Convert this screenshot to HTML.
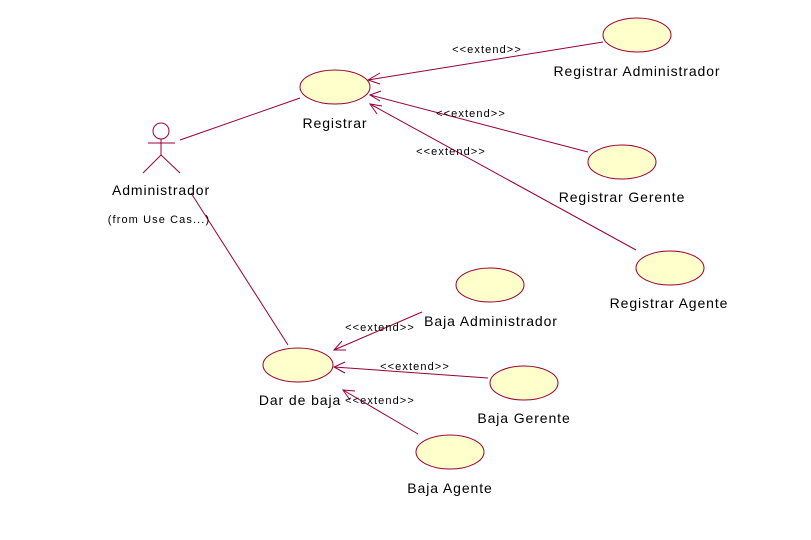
<!DOCTYPE html>
<html><head><style>body{margin:0;background:#fff}svg{display:block}text{font-family:"Liberation Sans",sans-serif;fill:#000}</style></head>
<body>
<svg width="811" height="540" viewBox="0 0 811 540" xmlns="http://www.w3.org/2000/svg">
<g stroke="#990033" stroke-width="1" fill="none">
<line x1="180" y1="140" x2="300" y2="98"/>
<line x1="191" y1="193" x2="288" y2="345"/>
<line x1="603" y1="42" x2="368" y2="80"/>
<polyline points="380,73 368,80 380,84"/>
<line x1="588" y1="152" x2="370" y2="95"/>
<polyline points="381,91 370,95 380,101"/>
<line x1="636" y1="250" x2="370" y2="104"/>
<polyline points="382,106 370,104 377,114"/>
<line x1="422" y1="312" x2="334" y2="350"/>
<polyline points="342,341 334,350 346,350"/>
<line x1="488" y1="378" x2="334" y2="367"/>
<polyline points="345,362 334,367 345,373"/>
<line x1="418" y1="434" x2="343" y2="390"/>
<polyline points="355,391 343,390 350,400"/>
<circle cx="161" cy="131" r="8"/>
<line x1="161" y1="139" x2="161" y2="155"/>
<line x1="148" y1="143" x2="175" y2="143"/>
<line x1="161" y1="155" x2="143" y2="173"/>
<line x1="161" y1="155" x2="180" y2="173"/>
</g>
<g fill="#ffffcc" stroke="#990033" stroke-width="1">
<ellipse cx="335" cy="87" rx="35" ry="17"/>
<ellipse cx="637" cy="35" rx="34" ry="17"/>
<ellipse cx="622" cy="162" rx="34" ry="17"/>
<ellipse cx="670" cy="268" rx="34" ry="17"/>
<ellipse cx="490" cy="285" rx="34" ry="17"/>
<ellipse cx="298" cy="365" rx="35" ry="17"/>
<ellipse cx="524" cy="383" rx="34" ry="17"/>
<ellipse cx="450" cy="452" rx="34" ry="17"/>
</g>
<g font-size="14" text-anchor="middle" letter-spacing="0.9">
<text x="335" y="128">Registrar</text>
<text x="637" y="76">Registrar Administrador</text>
<text x="622" y="202">Registrar Gerente</text>
<text x="669" y="308">Registrar Agente</text>
<text x="491" y="326">Baja Administrador</text>
<text x="300" y="405">Dar de baja</text>
<text x="524" y="423">Baja Gerente</text>
<text x="450" y="493">Baja Agente</text>
<text x="161" y="195">Administrador</text>
</g>
<g font-size="11" text-anchor="middle" letter-spacing="1.1">
<text x="159" y="223">(from Use Cas...)</text>
<text x="487" y="53">&lt;&lt;extend&gt;&gt;</text>
<text x="471" y="117">&lt;&lt;extend&gt;&gt;</text>
<text x="451" y="155">&lt;&lt;extend&gt;&gt;</text>
<text x="380" y="331">&lt;&lt;extend&gt;&gt;</text>
<text x="415" y="370">&lt;&lt;extend&gt;&gt;</text>
<text x="380" y="404">&lt;&lt;extend&gt;&gt;</text>
</g>
</svg>
</body></html>
